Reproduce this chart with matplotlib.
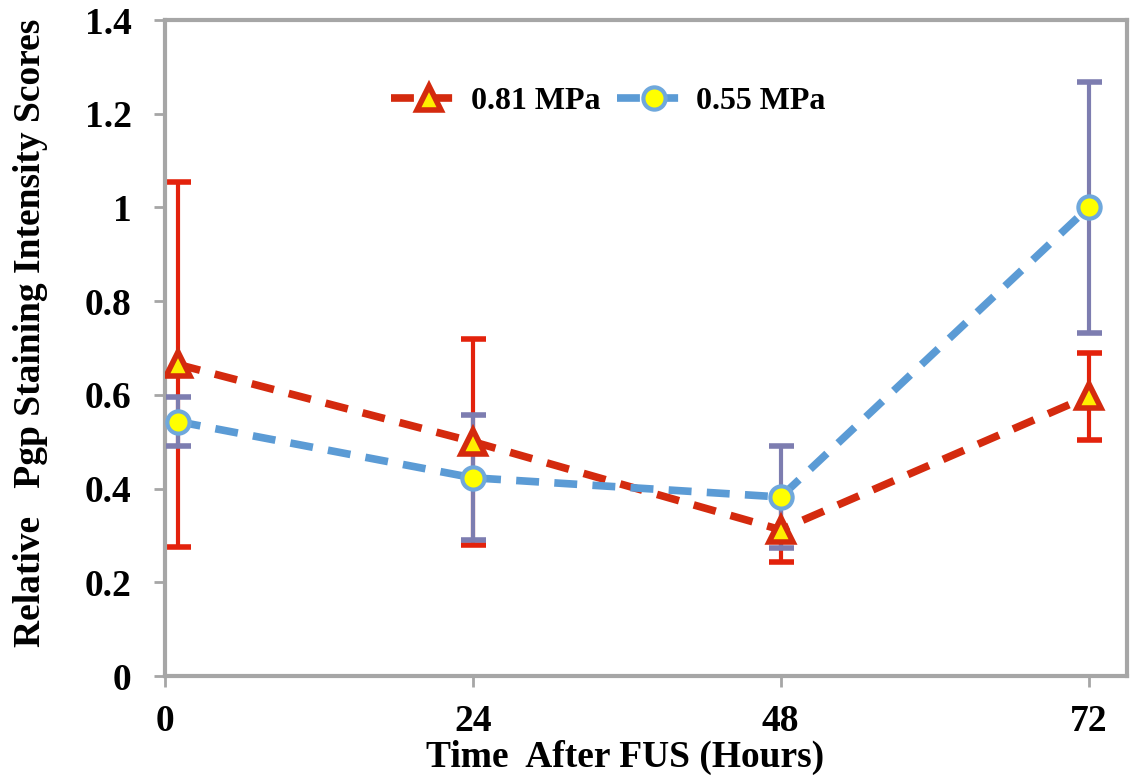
import numpy as np
import matplotlib.pyplot as plt

# Data
hours = [1, 24, 48, 72]
series_names = ["0.81 MPa", "0.55 MPa"]
high_mean = [0.665, 0.50, 0.312, 0.597]
high_err = [0.39, 0.22, 0.068, 0.093]
low_mean = [0.543, 0.423, 0.382, 1.0]
low_err = [0.052, 0.133, 0.109, 0.268]
x_ticks = [0, 24, 48, 72]
y_ticks = [0, 0.2, 0.4, 0.6, 0.8, 1, 1.2, 1.4]

plt.rcParams['font.family'] = ['Liberation Serif', 'DejaVu Serif']
plt.rcParams['font.weight'] = 'bold'

fig = plt.figure(figsize=(11.34, 7.78), dpi=100)
ax = fig.add_axes([165 / 1134, 1 - 676 / 778, (1127 - 165) / 1134, (676 - 20) / 778])

# 0.81 MPa - red, triangles
ax.errorbar(hours, high_mean, yerr=high_err, fmt='none', ecolor='#e3220c',
            elinewidth=3, capsize=9, capthick=4, zorder=2)
ax.plot(hours, high_mean, linestyle=(0, (3, 2)), color='#d42a0e', linewidth=5.5,
        marker='^', markersize=17, markerfacecolor='#ffee00', markeredgecolor='#d42a0e',
        markeredgewidth=4, label=series_names[0], zorder=4)

# 0.55 MPa - blue, circles
ax.errorbar(hours, low_mean, yerr=low_err, fmt='none', ecolor='#7d7db0',
            elinewidth=3, capsize=9, capthick=4, zorder=3)
ax.plot(hours, low_mean, linestyle=(0, (3, 2)), color='#5b9bd5', linewidth=5.5,
        marker='o', markersize=16, markerfacecolor='#ffff00', markeredgecolor='#6fa8dc',
        markeredgewidth=3, label=series_names[1], zorder=5)

ax.set_xlim(0, 75)
ax.set_ylim(0, 1.4)
ax.set_xticks(x_ticks)
ax.set_xticklabels([str(t) for t in x_ticks])
ax.set_yticks(y_ticks)
ax.set_yticklabels(["0", "0.2", "0.4", "0.6", "0.8", "1", "1.2", "1.4"])

for side in ax.spines.values():
    side.set_color('#a6a6a6')
    side.set_linewidth(3)
ax.tick_params(axis='both', direction='out', color='#a6a6a6', width=2, length=8,
               labelsize=27)
ax.tick_params(axis='y', pad=16)
ax.tick_params(axis='x', pad=12)

ax.set_xlabel("Time  After FUS (Hours)", fontsize=27, fontweight='bold')
ax.xaxis.set_label_coords(0.478, -0.097)
ax.set_ylabel("Relative   Pgp Staining Intensity Scores", fontsize=27,
              fontweight='bold')
ax.yaxis.set_label_coords(-0.122, 0.523)

ax.legend(loc='center', bbox_to_anchor=(0.461, 0.876), ncol=2, frameon=False,
          handlelength=2.35, columnspacing=0.5, handletextpad=0.15,
          prop={'weight': 'bold', 'size': 23})

fig.savefig("out.png", dpi=100)
